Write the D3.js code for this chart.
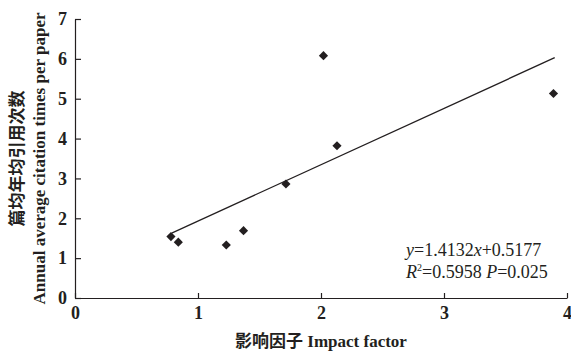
<!DOCTYPE html>
<html>
<head>
<meta charset="utf-8">
<script src="https://cdn.jsdelivr.net/npm/d3@7"></script>
<style>
  html, body { margin: 0; padding: 0; background: #fff; }
  svg { display: block; }
</style>
</head>
<body>
<svg id="chart" width="571" height="351"></svg>
<script>
// ---- data ----
const impactFactor = [0.78, 0.84, 1.23, 1.37, 1.715, 2.02, 2.13, 3.89];
const citations    = [1.54, 1.40, 1.33, 1.69, 2.86, 6.08, 3.82, 5.13];
const slope = 1.4132;
const intercept = 0.5177;
const xTicks = [0, 1, 2, 3, 4];
const yTicks = [0, 1, 2, 3, 4, 5, 6, 7];
const xTitle = "影响因子 Impact factor";
const yTitleCn = "篇均年均引用次数";
const yTitleEn = "Annual average citation times per paper";
const eqText = ["y", "=1.4132", "x", "+0.5177"];
const statText = { r: "R", sup: "2", rv: "=0.5958 ", p: "P", pv: "=0.025" };

const serif = "'Liberation Serif','Times New Roman',serif";
const ink = "#231f20";

const svg = d3.select("#chart");
const x = d3.scaleLinear().domain([0, 4]).range([75, 567]);
const y = d3.scaleLinear().domain([0, 7]).range([298, 19]);

// axes
const xAxis = d3.axisBottom(x).tickValues(xTicks).tickSizeInner(-5).tickSizeOuter(0).tickPadding(7).tickFormat(d3.format("d"));
const yAxis = d3.axisLeft(y).tickValues(yTicks).tickSizeInner(-6).tickSizeOuter(0).tickPadding(8).tickFormat(d3.format("d"));

const gx = svg.append("g").attr("transform", `translate(0,${y(0)})`).call(xAxis);
const gy = svg.append("g").attr("transform", `translate(${x(0)},0)`).call(yAxis);
[gx, gy].forEach(g => {
  g.attr("font-family", null).attr("font-size", null);
  g.select(".domain").attr("stroke", ink).attr("stroke-width", 1.2);
  g.selectAll(".tick line").attr("stroke", ink).attr("stroke-width", 1.2);
  g.selectAll(".tick text").attr("fill", ink)
    .style("font-family", serif).style("font-size", "18px").style("font-weight", "bold");
});
gx.selectAll(".tick text").attr("dy", "0.8em");

// regression line
const ext = d3.extent(impactFactor);
const line = d3.line().x(d => x(d)).y(d => y(slope * d + intercept));
svg.append("path")
  .datum([ext[0] + 0.006, ext[1] + 0.01])
  .attr("d", line)
  .attr("fill", "none").attr("stroke", ink).attr("stroke-width", 1.3);

// points (diamonds)
const sym = d3.symbol().type(d3.symbolSquare).size(42);
svg.append("g").selectAll("path")
  .data(impactFactor.map((v, i) => [v, citations[i]]))
  .join("path")
  .attr("d", sym)
  .attr("transform", d => `translate(${x(d[0])},${y(d[1])}) rotate(45)`)
  .attr("fill", ink);

// axis titles
svg.append("text")
  .attr("x", (x(0) + x(4)) / 2).attr("y", 347)
  .attr("text-anchor", "middle").attr("fill", ink)
  .style("font-family", "'Liberation Serif','Noto Sans CJK SC',serif")
  .style("font-size", "17px").style("font-weight", "bold")
  .text(xTitle);

const cy = (y(0) + y(7)) / 2;
svg.append("text")
  .attr("transform", `translate(23,${cy}) rotate(-90)`)
  .attr("text-anchor", "middle").attr("fill", ink)
  .style("font-family", "'Noto Sans CJK SC',sans-serif")
  .style("font-size", "17px").style("font-weight", "bold")
  .text(yTitleCn);
svg.append("text")
  .attr("transform", `translate(45,${cy}) rotate(-90)`)
  .attr("text-anchor", "middle").attr("fill", ink)
  .style("font-family", serif)
  .style("font-size", "17px").style("font-weight", "bold")
  .text(yTitleEn);

// annotation
const t1 = svg.append("text").attr("x", 406).attr("y", 256).attr("fill", ink)
  .style("font-family", serif).style("font-size", "18px");
t1.append("tspan").style("font-style", "italic").text(eqText[0]);
t1.append("tspan").text(eqText[1]);
t1.append("tspan").style("font-style", "italic").text(eqText[2]);
t1.append("tspan").text(eqText[3]);

const t2 = svg.append("text").attr("x", 406).attr("y", 278).attr("fill", ink)
  .style("font-family", serif).style("font-size", "18px");
t2.append("tspan").style("font-style", "italic").text(statText.r);
t2.append("tspan").attr("dy", -7).style("font-size", "10px").text(statText.sup);
t2.append("tspan").attr("dy", 7).text(statText.rv);
t2.append("tspan").style("font-style", "italic").text(statText.p);
t2.append("tspan").text(statText.pv);
</script>
</body>
</html>
